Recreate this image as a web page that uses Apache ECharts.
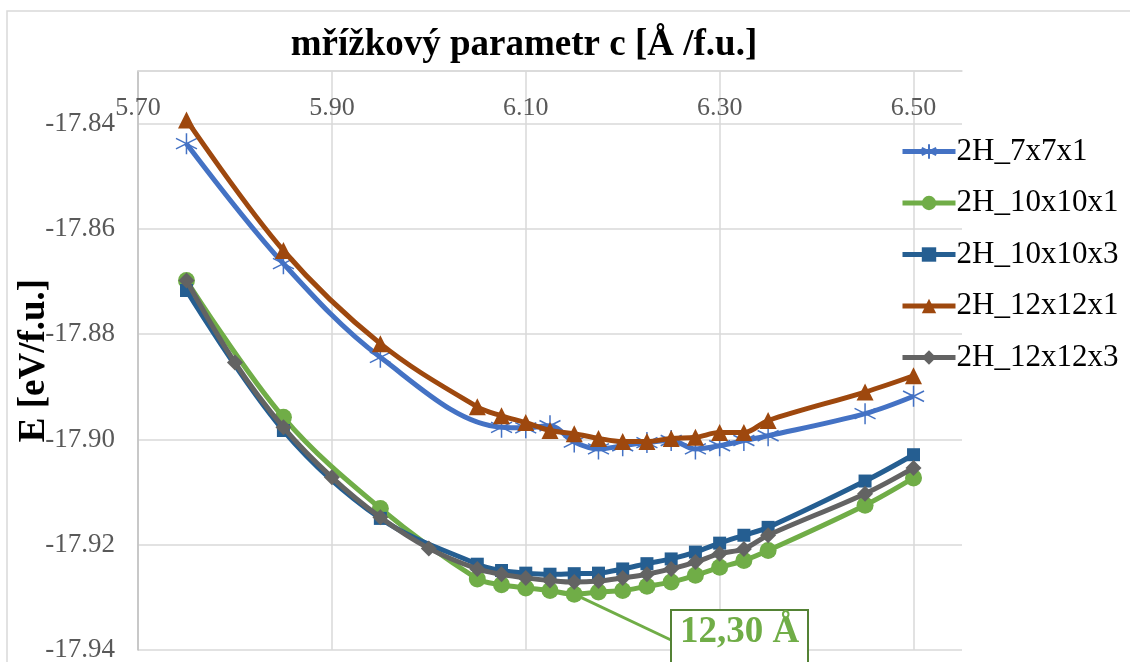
<!DOCTYPE html>
<html><head><meta charset="utf-8">
<script src="https://cdn.jsdelivr.net/npm/echarts@6/dist/echarts.min.js"></script>
<style>html,body{margin:0;padding:0;background:#fff}#c{width:1130px;height:662px}</style>
</head><body><div id="c"></div>
<script>
// ---- data ----
const seriesNames = ['2H_7x7x1', '2H_10x10x1', '2H_10x10x3', '2H_12x12x1', '2H_12x12x3'];

const x_7x7x1   = [5.75, 5.85, 5.95, 6.075, 6.10, 6.125, 6.15, 6.175, 6.20, 6.225, 6.25, 6.275, 6.30, 6.325, 6.35, 6.45, 6.50];
const y_7x7x1   = [-17.8438, -17.8666, -17.8844, -17.8977, -17.8978, -17.8974, -17.9005, -17.9018, -17.9012, -17.9006, -17.9002, -17.9018, -17.9012, -17.9002, -17.8993, -17.8951, -17.8918];

const x_10x10x1 = [5.75, 5.85, 5.95, 6.05, 6.075, 6.10, 6.125, 6.15, 6.175, 6.20, 6.225, 6.25, 6.275, 6.30, 6.325, 6.35, 6.45, 6.50];
const y_10x10x1 = [-17.8698, -17.8958, -17.9131, -17.9265, -17.9276, -17.9282, -17.9287, -17.9294, -17.9290, -17.9287, -17.9279, -17.9271, -17.9258, -17.9243, -17.9230, -17.9211, -17.9125, -17.9073];

const x_10x10x3 = [5.75, 5.85, 5.95, 6.05, 6.075, 6.10, 6.125, 6.15, 6.175, 6.20, 6.225, 6.25, 6.275, 6.30, 6.325, 6.35, 6.45, 6.50];
const y_10x10x3 = [-17.8717, -17.8983, -17.9150, -17.9237, -17.9249, -17.9254, -17.9256, -17.9255, -17.9254, -17.9246, -17.9236, -17.9227, -17.9214, -17.9197, -17.9182, -17.9167, -17.9079, -17.9029];

const x_12x12x1 = [5.75, 5.85, 5.95, 6.05, 6.075, 6.10, 6.125, 6.15, 6.175, 6.20, 6.225, 6.25, 6.275, 6.30, 6.325, 6.35, 6.45, 6.50];
const y_12x12x1 = [-17.8393, -17.8641, -17.8818, -17.8938, -17.8955, -17.8968, -17.8983, -17.8989, -17.8998, -17.9004, -17.9004, -17.8998, -17.8996, -17.8987, -17.8987, -17.8964, -17.8910, -17.8879];

const x_12x12x3 = [5.75, 5.80, 5.85, 5.90, 5.95, 6.00, 6.05, 6.075, 6.10, 6.125, 6.15, 6.175, 6.20, 6.225, 6.25, 6.275, 6.30, 6.325, 6.35, 6.45, 6.50];
const y_12x12x3 = [-17.8698, -17.8854, -17.8977, -17.9072, -17.9148, -17.9207, -17.9246, -17.9256, -17.9263, -17.9268, -17.9271, -17.9269, -17.9263, -17.9256, -17.9246, -17.9233, -17.9217, -17.9208, -17.9182, -17.9103, -17.9054];

const annotationText = '12,30 Å';
const annotationPoint = [6.15, -17.9294];

const titleText = 'mřížkový parametr c [Å /f.u.]';
const yName = 'E [eV/f.u.]';

// ---- styling ----
const FONT = '"Liberation Serif", "Times New Roman", serif';
const colors = ['#4472C4', '#70AD47', '#255E91', '#9E480E', '#636363'];
const symbols = [
  'path://M10,0L10,20M1.3,5L18.7,15M1.3,15L18.7,5',
  'circle', 'rect', 'triangle', 'diamond'
];
const symbolSizes = [21, 17, 13, 17, 16];

function zip(xs, ys) { return xs.map((x, i) => [x, ys[i]]); }
const datasets = [
  zip(x_7x7x1, y_7x7x1), zip(x_10x10x1, y_10x10x1), zip(x_10x10x3, y_10x10x3),
  zip(x_12x12x1, y_12x12x1), zip(x_12x12x3, y_12x12x3)
];

const chart = echarts.init(document.getElementById('c'), null, { renderer: 'canvas' });

const series = seriesNames.map((n, i) => ({
  name: n,
  type: 'line',
  data: datasets[i],
  smooth: 0.35,
  symbol: symbols[i],
  symbolSize: symbolSizes[i],
  showAllSymbol: true,
  lineStyle: { color: colors[i], width: 5 },
  itemStyle: i === 0
    ? { color: 'rgba(0,0,0,0)', borderColor: colors[i], borderWidth: 1.5 }
    : { color: colors[i], borderWidth: 0 },
  emphasis: { disabled: true },
  z: 2 + i
}));

chart.setOption({
  animation: false,
  backgroundColor: '#fff',
  textStyle: { fontFamily: FONT },
  title: {
    text: titleText,
    left: 519, top: 22, textAlign: 'center',
    textStyle: { fontFamily: FONT, fontWeight: 'bold', fontSize: 37, color: '#000' }
  },
  legend: {
    orient: 'vertical',
    left: 895, top: 131,
    itemWidth: 53, itemHeight: 18,
    itemGap: 20.5,
    lineStyle: { width: 5 },
    textStyle: { fontFamily: FONT, fontSize: 31, color: '#000', lineHeight: 31, padding: [0, 0, 0, -4] },
    data: seriesNames
  },
  grid: { left: 138, right: 168, top: 71, bottom: 12, containLabel: false, outerBoundsMode: 'none' },
  xAxis: {
    type: 'value', position: 'top',
    min: 5.70, max: 6.55, interval: 0.2,
    axisLine: { show: true, lineStyle: { color: '#D9D9D9', width: 1.5 } },
    axisTick: { show: false },
    axisLabel: {
      inside: true, margin: 24, showMaxLabel: false,
      fontFamily: FONT, fontSize: 26, color: '#595959',
      formatter: v => v.toFixed(2)
    },
    splitLine: { show: true, showMaxLine: false, lineStyle: { color: '#D9D9D9', width: 1.5 } }
  },
  yAxis: {
    type: 'value',
    min: -17.94, max: -17.83, interval: 0.02,
    name: yName, nameLocation: 'middle', nameGap: 85, nameRotate: 90,
    nameMoveOverlap: false,
    nameTextStyle: { fontFamily: FONT, fontWeight: 'bold', fontSize: 37, color: '#000' },
    axisLine: { show: true, lineStyle: { color: '#BFBFBF', width: 1.5 } },
    axisTick: { show: false },
    axisLabel: {
      margin: 23, showMaxLabel: false,
      fontFamily: FONT, fontSize: 27, color: '#595959',
      formatter: v => v.toFixed(2)
    },
    splitLine: { show: true, lineStyle: { color: '#D9D9D9', width: 1.5 } }
  },
  series: series
});

// annotation with leader line
const p = chart.convertToPixel({ seriesIndex: 1 }, annotationPoint);
const box = { x: 671, y: 610, w: 137, h: 70 };
const target = [box.x, 640];
const dx = target[0] - p[0], dy = target[1] - p[1];
const len = Math.sqrt(dx * dx + dy * dy);
const start = [p[0] + dx / len * 8, p[1] + dy / len * 8];

chart.setOption({
  graphic: [
    { type: 'rect', shape: { x: 7, y: 11, width: 1140, height: 700 },
      style: { fill: 'none', stroke: '#D9D9D9', lineWidth: 1.5 }, z: 0, silent: true },
    { type: 'line', shape: { x1: start[0], y1: start[1], x2: target[0], y2: target[1] },
      style: { stroke: '#70AD47', lineWidth: 3 }, z: 50 },
    { type: 'rect', shape: { x: box.x, y: box.y, width: box.w, height: box.h },
      style: { fill: '#fff', stroke: '#548235', lineWidth: 2 }, z: 51 },
    { type: 'text', x: box.x + box.w / 2, y: 651, z: 52,
      style: { text: annotationText, fill: '#70AD47', font: 'bold 37px ' + FONT,
               textAlign: 'center', textVerticalAlign: 'bottom' } }
  ]
});
</script>
</body></html>
